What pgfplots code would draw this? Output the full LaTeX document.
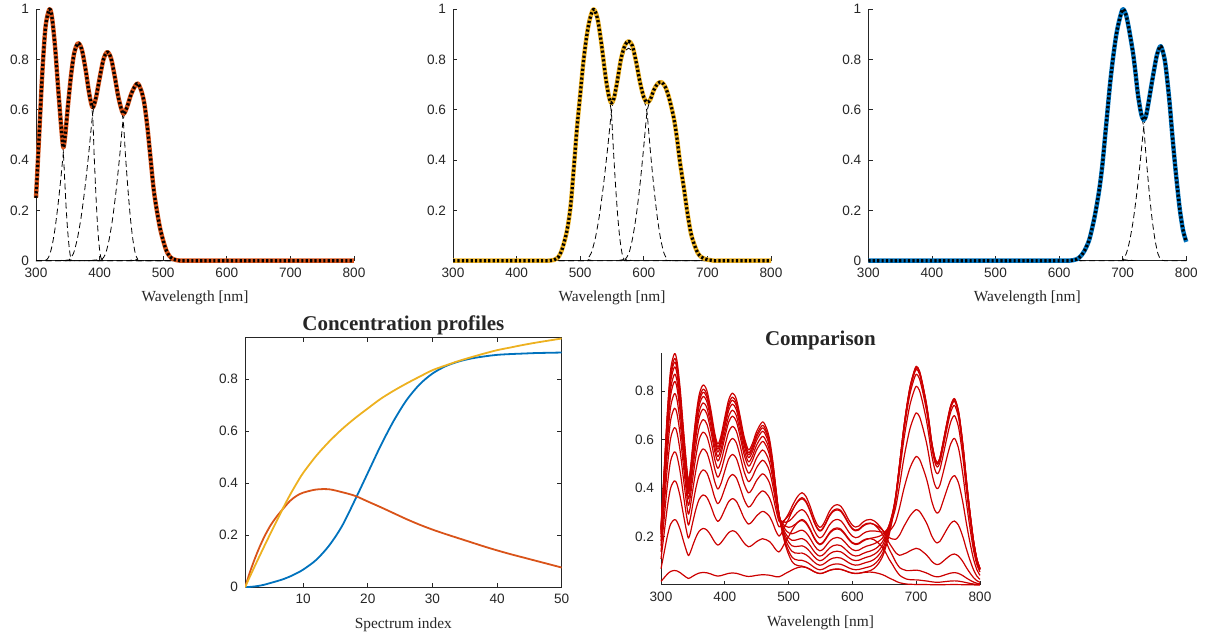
\documentclass[border=0pt]{standalone}
\usepackage{pgfplots}
\pgfplotsset{compat=1.18}
\usepackage{pgfplotstable}
\usepackage{fontspec}
\setmainfont{Liberation Sans}
\newfontfamily\tnr{Liberation Serif}
\definecolor{mgray}{rgb}{0.15,0.15,0.15}
\definecolor{mblue}{rgb}{0,0.447,0.741}
\definecolor{morange}{rgb}{0.85,0.325,0.098}
\definecolor{myellow}{rgb}{0.929,0.694,0.125}
\definecolor{mred}{rgb}{0.8,0,0}

% spectra: a = species 1, b = species 2, c = species 3
\pgfplotstableread{
x a b c
300 0.25 0 0
305 0.50 0 0
310 0.75 0 0
315 0.93 0 0
321 1.00 0 0
325 0.97 0 0
330 0.85 0 0
335 0.68 0 0
340 0.52 0 0
343 0.45 0 0
346 0.50 0 0
350 0.61 0 0
355 0.735 0 0
360 0.825 0 0
366 0.865 0 0
372 0.84 0 0
378 0.76 0 0
384 0.66 0 0
389 0.61 0 0
394 0.645 0 0
400 0.725 0 0
406 0.80 0 0
412 0.83 0 0
418 0.805 0 0
424 0.73 0 0
430 0.645 0 0
437 0.585 0 0
443 0.61 0 0
450 0.665 0 0
459 0.705 0.003 0
465 0.68 0.012 0
470 0.63 0.035 0
475 0.535 0.075 0
480 0.41 0.13 0
485 0.285 0.22 0
490 0.20 0.37 0
495 0.13 0.53 0
500 0.08 0.66 0
505 0.04 0.79 0
510 0.018 0.89 0
515 0.007 0.96 0
521 0.002 1.00 0
527 0 0.965 0
533 0 0.87 0
540 0 0.73 0
545 0 0.655 0
549 0 0.627 0
553 0 0.645 0
558 0 0.71 0
564 0 0.80 0
570 0 0.855 0
576 0 0.873 0
582 0 0.855 0
588 0 0.79 0
594 0 0.71 0
600 0 0.65 0
605 0 0.63 0
610 0 0.64 0
616 0 0.68 0
622 0 0.705 0.002
628 0 0.71 0.006
634 0 0.69 0.018
640 0 0.645 0.04
647 0 0.57 0.08
652 0 0.49 0.13
657 0 0.39 0.19
663 0 0.29 0.28
668 0 0.20 0.38
674 0 0.11 0.54
680 0 0.06 0.70
685 0 0.03 0.81
690 0 0.015 0.90
695 0 0.008 0.96
700 0 0.004 1.00
705 0 0.002 0.98
710 0 0 0.92
716 0 0 0.83
720 0 0 0.75
724 0 0 0.66
729 0 0 0.585
733 0 0 0.56
737 0 0 0.58
742 0 0 0.65
748 0 0 0.74
754 0 0 0.82
760 0 0 0.853
766 0 0 0.80
770 0 0 0.72
774 0 0 0.62
778 0 0 0.50
782 0 0 0.39
786 0 0 0.29
790 0 0 0.20
795 0 0 0.12
800 0 0 0.075
}\spec

% concentration profiles: Y (yellow), O (orange), B (blue)
\pgfplotstableread{
x Y O B
1 0 0 0
2 0.054 0.075 0.002
3 0.107 0.14 0.005
4 0.159 0.195 0.01
5 0.21 0.24 0.017
6 0.26 0.275 0.024
7 0.31 0.305 0.032
8 0.357 0.333 0.042
9 0.40 0.352 0.054
10 0.44 0.364 0.068
12 0.505 0.376 0.105
14 0.56 0.377 0.16
16 0.608 0.366 0.235
18 0.65 0.352 0.335
20 0.688 0.33 0.44
22 0.725 0.308 0.545
24 0.756 0.285 0.64
26 0.784 0.262 0.72
28 0.81 0.241 0.78
30 0.835 0.222 0.822
32 0.853 0.205 0.85
34 0.87 0.189 0.868
36 0.885 0.173 0.88
38 0.899 0.157 0.888
40 0.912 0.142 0.894
42 0.922 0.128 0.897
44 0.932 0.115 0.899
46 0.941 0.102 0.901
48 0.949 0.089 0.902
50 0.957 0.076 0.903
}\conc

\pgfplotsset{
  mstyle/.style={scale only axis, tick align=inside, major tick length=2.2pt,
    tick style={mgray, line width=0.4pt},
    axis line style={-, mgray, line width=0.5pt},
    ticklabel style={font=\fontsize{6.8}{8}\selectfont, text=mgray},
    /pgf/number format/assume math mode=true,
    label style={font=\tnr\fontsize{7.7}{9}\selectfont, text=mgray},
    title style={font=\tnr\bfseries\fontsize{10.5}{12}\selectfont, text=black!85, yshift=-8pt},
  },
  topp/.style={mstyle, width=159pt, height=125.7pt, xmin=300, xmax=800, ymin=0, ymax=1,
    axis x line*=bottom, axis y line*=left, xtick={300,400,...,800},
    ytick={0,0.2,0.4,0.6,0.8,1}, xlabel={Wavelength [nm]}, clip=false},
  comp/.style={black, line width=0.4pt, dash pattern=on 3pt off 1.8pt, smooth, tension=0.4},
  dotted total/.style={black, line width=1.6pt, dash pattern=on 1.1pt off 1.1pt, smooth, tension=0.5, line join=round},
  thick total/.style={line width=2.2pt, smooth, tension=0.5, line join=round},
  cmp/.style={mred, line width=0.6pt, smooth, tension=0.5, line join=round},
}

\begin{document}
\begin{tikzpicture}[x=1pt,y=1pt]
\useasboundingbox (0,0) rectangle (605,320);

% ---------- panel 1 ----------
\begin{axis}[topp, at={(18pt,189.65pt)}, anchor=south west]
\addplot[comp] coordinates {(300,0.25)(305,0.5)(310,0.75)(315,0.93)(321,1)(325,0.97)(330,0.85)(335,0.68)(340,0.52)(343,0.43)(345.2,0.318)(347.3,0.215)(349.5,0.129)(351.7,0.0645)(353.8,0.0215)(356,0.004)(362,0)(800,0)};
\addplot[comp] coordinates {(300,0)(312,0)(317,0.004)(321.3,0.0215)(325.7,0.0645)(330,0.129)(334.3,0.215)(338.7,0.318)(343,0.43)(346,0.5)(350,0.61)(355,0.735)(360,0.825)(366,0.86)(372,0.835)(378,0.755)(384,0.655)(389,0.58)(391.3,0.429)(393.7,0.29)(396,0.174)(398.3,0.087)(400.7,0.029)(403,0.006)(410,0)(800,0)};
\addplot[comp] coordinates {(300,0)(348,0)(353,0.006)(359,0.029)(365,0.087)(371,0.174)(377,0.29)(383,0.429)(389,0.58)(394,0.645)(400,0.725)(406,0.8)(412,0.825)(418,0.8)(424,0.725)(430,0.64)(437,0.56)(440.8,0.414)(444.7,0.28)(448.5,0.168)(452.3,0.084)(456.2,0.028)(460,0.0056)(466,0)(800,0)};
\addplot[comp] coordinates {(300,0)(398,0)(404,0.0056)(409.5,0.028)(415,0.084)(420.5,0.168)(426,0.28)(431.5,0.414)(437,0.56)(443,0.605)(450,0.66)(459,0.705)(465,0.68)(470,0.63)(475,0.535)(480,0.41)(485,0.285)(490,0.2)(495,0.13)(500,0.08)(505,0.04)(510,0.018)(515,0.007)(521,0.002)(527,0)(800,0)};
\addplot[morange, thick total] table[x=x, y=a] {\spec};
\addplot[dotted total] table[x=x, y=a] {\spec};
\end{axis}

% ---------- panel 2 ----------
\begin{axis}[topp, at={(226.5pt,189.65pt)}, anchor=south west, ytick={0.2,0.4,0.6,0.8,1}]
\addplot[comp] coordinates {(300,0)(455,0)(459,0.003)(465,0.012)(470,0.035)(475,0.075)(480,0.13)(485,0.22)(490,0.37)(495,0.53)(500,0.66)(505,0.79)(510,0.89)(515,0.96)(521,1)(527,0.965)(533,0.87)(540,0.73)(545,0.65)(549,0.59)(552.3,0.437)(555.7,0.295)(559,0.177)(562.3,0.0885)(565.7,0.03)(569,0.006)(575,0)(800,0)};
\addplot[comp] coordinates {(300,0)(505,0)(511,0.006)(517.3,0.03)(523.7,0.0885)(530,0.177)(536.3,0.295)(542.7,0.437)(549,0.59)(553,0.645)(558,0.71)(564,0.79)(570,0.83)(576,0.845)(582,0.83)(588,0.77)(594,0.69)(600,0.64)(605,0.59)(610.3,0.437)(615.7,0.295)(621,0.177)(626.3,0.0885)(631.7,0.03)(637,0.006)(645,0)(800,0)};
\addplot[comp] coordinates {(300,0)(565,0)(571,0.006)(576.7,0.03)(582.3,0.0885)(588,0.177)(593.7,0.295)(599.3,0.437)(605,0.59)(610,0.64)(616,0.68)(622,0.705)(628,0.71)(634,0.69)(640,0.645)(647,0.57)(652,0.49)(657,0.39)(663,0.29)(668,0.2)(674,0.11)(680,0.06)(685,0.03)(690,0.015)(695,0.008)(700,0.004)(705,0.002)(712,0)(800,0)};
\addplot[myellow, thick total] table[x=x, y=b] {\spec};
\addplot[dotted total] table[x=x, y=b] {\spec};
\end{axis}

% ---------- panel 3 ----------
\begin{axis}[topp, at={(434.15pt,189.65pt)}, anchor=south west]
\addplot[comp] coordinates {(300,0)(620,0)(622,0.002)(628,0.006)(634,0.018)(640,0.04)(647,0.08)(652,0.13)(657,0.19)(663,0.28)(668,0.38)(674,0.54)(680,0.7)(685,0.81)(690,0.9)(695,0.96)(700,1)(705,0.98)(710,0.92)(716,0.83)(720,0.75)(724,0.66)(729,0.58)(733,0.53)(737.5,0.392)(742,0.265)(746.5,0.159)(751,0.08)(755.5,0.027)(760,0.005)(766,0)(800,0)};
\addplot[comp] coordinates {(300,0)(694,0)(700,0.005)(705.5,0.027)(711,0.08)(716.5,0.159)(722,0.265)(727.5,0.392)(733,0.53)(737,0.58)(742,0.65)(748,0.74)(754,0.82)(760,0.853)(766,0.8)(770,0.72)(774,0.62)(778,0.5)(782,0.39)(786,0.29)(790,0.2)(795,0.12)(800,0.075)};
\addplot[mblue, thick total] table[x=x, y=c] {\spec};
\addplot[dotted total] table[x=x, y=c] {\spec};
\end{axis}

% ---------- concentration profiles ----------
\begin{axis}[mstyle, at={(122.5pt,26.35pt)}, anchor=south west, width=158.35pt, height=124.8pt,
  xmin=1, xmax=50, ymin=0, ymax=0.96, xtick={10,20,...,50}, ytick={0,0.2,0.4,0.6,0.8},
  xlabel={Spectrum index}, title={Concentration profiles}]
\addplot[mblue, line width=0.9pt, smooth] table[x=x, y=B] {\conc};
\addplot[morange, line width=0.9pt, smooth] table[x=x, y=O] {\conc};
\addplot[myellow, line width=0.9pt, smooth] table[x=x, y=Y] {\conc};
\end{axis}

% ---------- comparison ----------
\begin{axis}[mstyle, at={(330.5pt,27.5pt)}, anchor=south west, width=159.5pt, height=115.85pt,
  xmin=300, xmax=800, ymin=0, ymax=0.957, axis x line*=bottom, axis y line*=left,
  xtick={300,400,...,800}, ytick={0.2,0.4,0.6,0.8}, xlabel={Wavelength [nm]}, title={Comparison}, clip=false]
\addplot[cmp] table[x=x, y expr={0.06*\thisrow{a}+0.075*\thisrow{b}+0.002*\thisrow{c}}] {\spec};
\addplot[cmp] table[x=x, y expr={0.27*\thisrow{a}+0.27*\thisrow{b}+0.02*\thisrow{c}}] {\spec};
\addplot[cmp] table[x=x, y expr={0.43*\thisrow{a}+0.36*\thisrow{b}+0.06*\thisrow{c}}] {\spec};
\addplot[cmp] table[x=x, y expr={0.55*\thisrow{a}+0.38*\thisrow{b}+0.15*\thisrow{c}}] {\spec};
\addplot[cmp] table[x=x, y expr={0.65*\thisrow{a}+0.355*\thisrow{b}+0.31*\thisrow{c}}] {\spec};
\addplot[cmp] table[x=x, y expr={0.73*\thisrow{a}+0.31*\thisrow{b}+0.53*\thisrow{c}}] {\spec};
\addplot[cmp] table[x=x, y expr={0.79*\thisrow{a}+0.265*\thisrow{b}+0.71*\thisrow{c}}] {\spec};
\addplot[cmp] table[x=x, y expr={0.84*\thisrow{a}+0.225*\thisrow{b}+0.82*\thisrow{c}}] {\spec};
\addplot[cmp] table[x=x, y expr={0.87*\thisrow{a}+0.19*\thisrow{b}+0.87*\thisrow{c}}] {\spec};
\addplot[cmp] table[x=x, y expr={0.90*\thisrow{a}+0.16*\thisrow{b}+0.89*\thisrow{c}}] {\spec};
\addplot[cmp] table[x=x, y expr={0.92*\thisrow{a}+0.13*\thisrow{b}+0.897*\thisrow{c}}] {\spec};
\addplot[cmp] table[x=x, y expr={0.935*\thisrow{a}+0.10*\thisrow{b}+0.90*\thisrow{c}}] {\spec};
\addplot[cmp] table[x=x, y expr={0.955*\thisrow{a}+0.076*\thisrow{b}+0.903*\thisrow{c}}] {\spec};
\end{axis}
\end{tikzpicture}
\end{document}
